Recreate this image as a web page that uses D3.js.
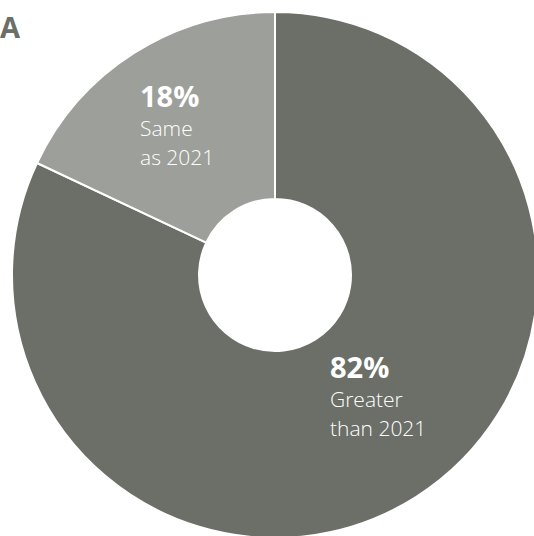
<!DOCTYPE html>
<html><head><meta charset="utf-8">
<script src="https://cdn.jsdelivr.net/npm/d3@7"></script>
<style>html,body{margin:0;padding:0;background:#fff;overflow:hidden}</style>
</head><body>
<svg id="c" width="534" height="536"></svg>
<script>
const categories = ["Greater than 2021", "Same as 2021"];
const values = [82, 18];
const pctLabels = ["82%", "18%"];
const labelLines = [["Greater", "than 2021"], ["Same", "as 2021"]];
const colors = ["#6b6f68", "#9d9f9a"];

const svg = d3.select("#c");
const cx = 275, cy = 275, outerR = 263, innerR = 76;
const g = svg.append("g").attr("transform", `translate(${cx},${cy})`);

const pie = d3.pie().sort(null).value(d => d.v);
const data = pie(categories.map((c, i) => ({c, v: values[i], i})));
const arc = d3.arc().innerRadius(innerR).outerRadius(outerR);

g.selectAll("path").data(data).join("path")
  .attr("d", arc)
  .attr("fill", d => colors[d.data.i])
  .attr("stroke", "#fff").attr("stroke-width", 2);

const labelPos = [[55, 103], [-135, -168]];
data.forEach((d, i) => {
  const [lx, ly] = labelPos[i];
  const t = g.append("g").attr("transform", `translate(${lx},${ly})`);
  t.append("text").attr("x", 0).attr("y", 0)
    .attr("font-family", "'Open Sans', sans-serif").attr("font-weight", 700)
    .attr("font-size", 29).attr("fill", "#fff").text(pctLabels[i]);
  labelLines[i].forEach((ln, k) => {
    t.append("text").attr("x", 0).attr("y", 29 + k * 29)
      .attr("font-family", "'Open Sans', sans-serif").attr("font-weight", 300)
      .attr("font-size", 21).attr("fill", "#fff").text(ln);
  });
});

svg.append("text").attr("x", 0).attr("y", 38)
  .attr("font-family", "'Open Sans', sans-serif").attr("font-weight", 700)
  .attr("font-size", 29).attr("fill", "#6b6f68").text("A");
</script>
</body></html>
